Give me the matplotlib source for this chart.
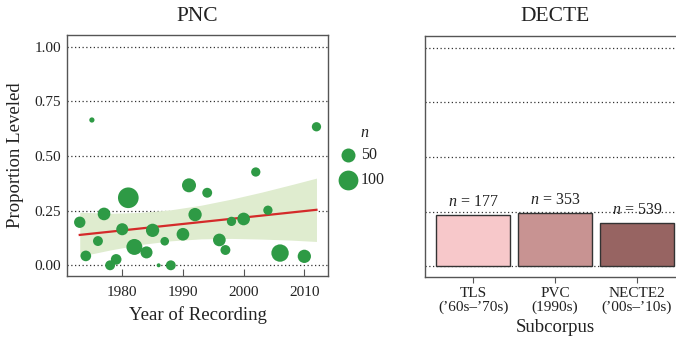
import numpy as np
import matplotlib
matplotlib.use("Agg")
import matplotlib.pyplot as plt

plt.rcParams['font.family'] = ['Liberation Serif', 'DejaVu Serif']
plt.rcParams['mathtext.fontset'] = 'custom'
plt.rcParams['mathtext.it'] = 'Liberation Serif:italic'
plt.rcParams['mathtext.rm'] = 'Liberation Serif'

# ---- PNC data (year, proportion leveled, n tokens) ----
pnc_year = [1973, 1975, 1974, 1977, 1976, 1978, 1979, 1981, 1980, 1982,
            1984, 1985, 1986, 1987, 1988, 1990, 1991, 1992, 1994, 1996,
            1997, 1998, 2000, 2002, 2004, 2006, 2010, 2012]
pnc_prop = [0.197, 0.665, 0.043, 0.235, 0.111, 0.0, 0.027, 0.309, 0.165, 0.084,
            0.059, 0.160, 0.0, 0.110, 0.0, 0.142, 0.366, 0.232, 0.332, 0.116,
            0.070, 0.201, 0.212, 0.427, 0.252, 0.056, 0.041, 0.634]
pnc_n = [33, 7, 29, 41, 25, 25, 29, 109, 37, 65,
         37, 45, 4, 19, 25, 41, 50, 45, 25, 41,
         25, 22, 41, 22, 22, 77, 45, 22]

# weighted linear trend and its confidence band
fit_year = [1973, 2012]
fit_prop = [0.139, 0.254]
band_year = [1973, 1978, 1983, 1988, 1993, 1998, 2003, 2008, 2012]
band_lo = [0.041, 0.070, 0.095, 0.112, 0.121, 0.123, 0.120, 0.115, 0.109]
band_hi = [0.243, 0.238, 0.242, 0.254, 0.275, 0.303, 0.335, 0.370, 0.399]

# ---- DECTE data ----
decte_cats = ["TLS\n(\u201960s\u2013\u201970s)", "PVC\n(1990s)", "NECTE2\n(\u201900s\u2013\u201910s)"]
decte_prop = [0.234, 0.245, 0.200]
decte_n = [177, 353, 539]
decte_colors = ["#f7c8ca", "#c89392", "#976462"]

legend_n = [50, 100]
yticks = [0.0, 0.25, 0.5, 0.75, 1.0]

GREEN = "#2e9a45"
TXT = "#222222"
SPINE = "#555555"

def size(n):
    return 2.03 * np.asarray(n, dtype=float)

fig = plt.figure(figsize=(6.76, 3.41), dpi=100)
ax1 = fig.add_axes([67/676, 1-276/341, (328-67)/676, (276-35)/341])
ax2 = fig.add_axes([425/676, 1-277/341, (685-425)/676, (277-36)/341])

ylim = (-0.049, 1.054)

# ---- left panel ----
ax1.fill_between(band_year, band_lo, band_hi, color="#dfeccf", lw=0, zorder=1)
ax1.plot(fit_year, fit_prop, color="#d42a2a", lw=1.6, zorder=2)
ax1.scatter(pnc_year, pnc_prop, s=size(pnc_n), color=GREEN, edgecolors='none', zorder=3)

ax1.set_xlim(1970.9, 2013.9)
ax1.set_ylim(*ylim)
ax1.set_yticks(yticks)
ax1.set_yticklabels([f"{v:.2f}" for v in yticks])
ax1.set_xticks([1980, 1990, 2000, 2010])
for v in yticks:
    ax1.axhline(v, color="#333333", lw=0.9, ls=(0, (1, 2)), zorder=0.5)
ax1.tick_params(axis='x', direction='in', length=5, width=0.8, color=SPINE,
                labelsize=11, labelcolor=TXT, pad=7)
ax1.tick_params(axis='y', length=0, labelsize=11, labelcolor=TXT, pad=4)
for s in ax1.spines.values():
    s.set_color(SPINE)
    s.set_linewidth(1.0)
ax1.set_title("PNC", fontsize=15.5, color=TXT, y=1 + (35-17)/241, va='center', pad=0)
ax1.set_xlabel("Year of Recording", fontsize=13.5, color=TXT)
ax1.xaxis.label.set_va('center')
ax1.xaxis.set_label_coords(0.5, -(315-276)/241)
ax1.set_ylabel("Proportion Leveled", fontsize=13.5, color=TXT)
ax1.yaxis.label.set_va('center')
ax1.yaxis.set_label_coords(-(67-16)/261, 0.5)

# legend (manual)
fig.text(365/676, 1-133/341, r"$n$", fontsize=11.5, color=TXT, ha='center', va='center')
for n, ypx in zip(legend_n, [155, 180]):
    fig.add_artist(plt.Line2D([348/676], [1-ypx/341], marker='o', ls='none',
                              markersize=np.sqrt(size(n)), color=GREEN,
                              markeredgewidth=0, transform=fig.transFigure))
    fig.text(361/676, 1-ypx/341, str(n), fontsize=11.5, color=TXT, ha='left', va='center')

# ---- right panel ----
pos = np.arange(len(decte_cats))
bars = ax2.bar(pos, decte_prop, width=0.9, color=decte_colors, edgecolor="#333333",
               linewidth=1.0, zorder=2)
for v in yticks:
    ax2.axhline(v, color="#333333", lw=0.9, ls=(0, (1, 2)), zorder=0.5)
for b, n in zip(bars, decte_n):
    ax2.annotate(rf"$n$ = {n}", (b.get_x() + b.get_width()/2, b.get_height()),
                 xytext=(0, 3.5), textcoords='offset points', ha='center', va='bottom',
                 fontsize=11.5, color=TXT, zorder=1)
ax2.set_xlim(-0.59, 2.59)
ax2.set_ylim(*ylim)
ax2.set_yticks(yticks)
ax2.set_yticklabels([])
ax2.tick_params(axis='y', length=0)
ax2.set_xticks(pos)
ax2.set_xticklabels(decte_cats, fontsize=11, color=TXT, linespacing=1.05)
ax2.tick_params(axis='x', direction='out', length=4, width=0.8, color=SPINE, pad=3)
for s in ax2.spines.values():
    s.set_color(SPINE)
    s.set_linewidth(1.0)
ax2.set_title("DECTE", fontsize=15.5, color=TXT, x=(555-425)/(685-425),
              y=1 + (36-17)/241, va='center', pad=0)
ax2.set_xlabel("Subcorpus", fontsize=13.5, color=TXT)
ax2.xaxis.label.set_va('center')
ax2.xaxis.set_label_coords((555-425)/(685-425), -(327-277)/241)

fig.savefig("out.png", dpi=100)
